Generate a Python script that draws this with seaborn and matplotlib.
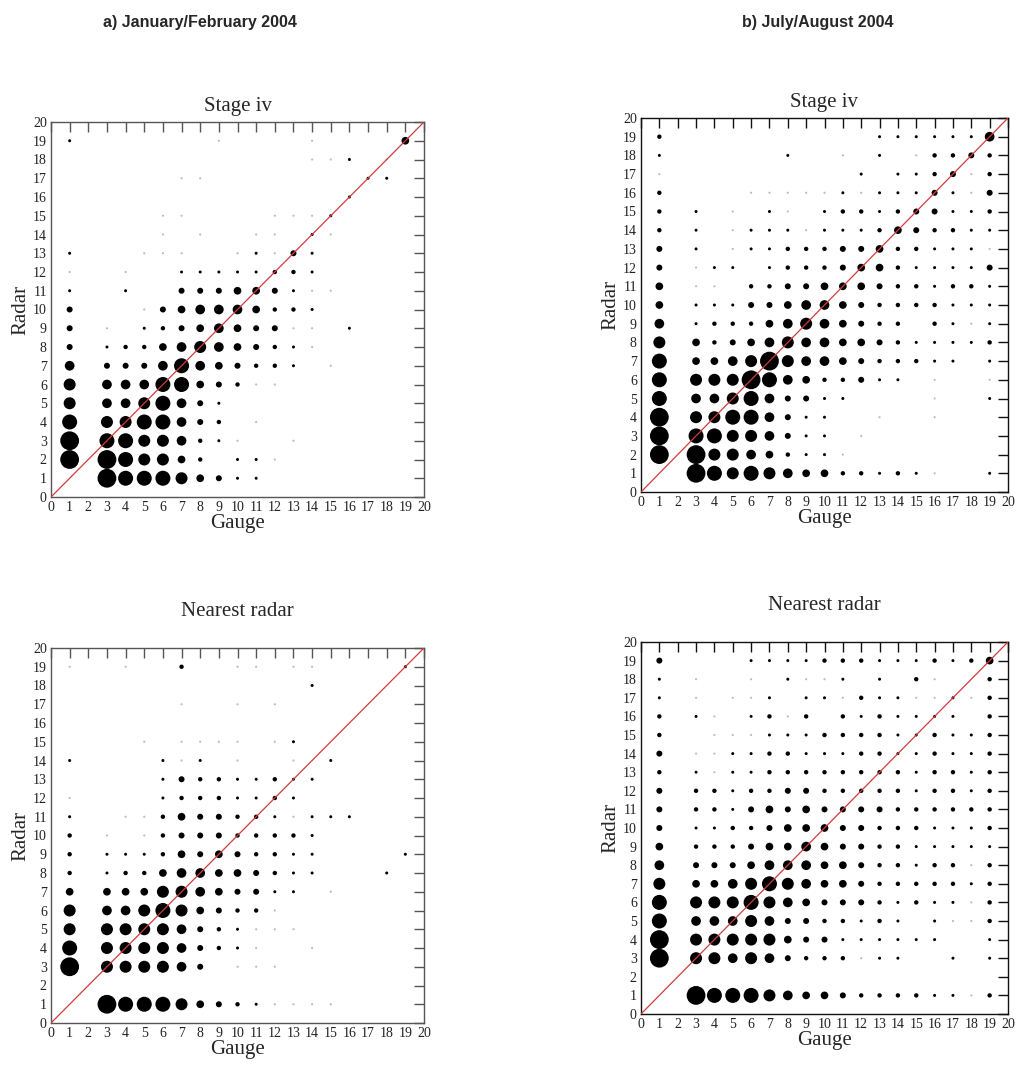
import matplotlib
matplotlib.use("Agg")
import matplotlib.pyplot as plt
import pandas as pd
import seaborn as sns

# ---------------- data ----------------
# size class of the dot in each cell: 0 = empty, 1 = faint speck, 9 = largest
# rows: radar 19 -> 1 ; columns: gauge 1 -> 19
gauge_bins = list(range(1, 20))
radar_bins = list(range(19, 0, -1))

jan_stage_iv = [
    [2, 0, 0, 0, 0, 0, 0, 0, 1, 0, 0, 0, 0, 1, 0, 0, 0, 0, 5],
    [0, 0, 0, 0, 0, 0, 0, 0, 0, 0, 0, 0, 0, 1, 1, 2, 0, 1, 0],
    [0, 0, 0, 0, 0, 0, 1, 1, 0, 0, 0, 0, 0, 0, 0, 0, 2, 2, 0],
    [0, 0, 0, 0, 0, 0, 0, 0, 0, 0, 0, 0, 0, 0, 0, 2, 0, 0, 0],
    [0, 0, 0, 0, 0, 1, 1, 0, 0, 0, 0, 1, 1, 1, 2, 0, 0, 0, 0],
    [0, 0, 0, 0, 0, 1, 0, 1, 0, 0, 1, 1, 0, 2, 1, 0, 0, 0, 0],
    [2, 0, 0, 0, 1, 1, 1, 0, 0, 1, 2, 1, 4, 2, 0, 0, 0, 0, 0],
    [1, 0, 0, 1, 0, 0, 2, 2, 2, 2, 2, 3, 3, 2, 0, 0, 0, 0, 0],
    [2, 0, 0, 2, 0, 0, 4, 4, 4, 5, 5, 4, 2, 1, 1, 0, 0, 0, 0],
    [4, 0, 0, 0, 1, 4, 5, 6, 6, 6, 5, 3, 3, 2, 0, 0, 0, 0, 0],
    [4, 0, 1, 0, 2, 3, 4, 5, 6, 5, 4, 4, 1, 1, 0, 2, 0, 0, 0],
    [4, 0, 2, 3, 3, 5, 6, 7, 6, 5, 4, 3, 2, 1, 0, 0, 0, 0, 0],
    [6, 0, 4, 4, 4, 6, 8, 6, 5, 4, 3, 3, 2, 0, 1, 0, 0, 0, 0],
    [7, 0, 6, 6, 6, 8, 8, 5, 4, 3, 1, 1, 0, 0, 0, 0, 0, 0, 0],
    [7, 0, 6, 6, 7, 8, 6, 4, 2, 0, 0, 0, 0, 0, 0, 0, 0, 0, 0],
    [8, 0, 7, 7, 8, 8, 6, 4, 3, 0, 1, 0, 0, 0, 0, 0, 0, 0, 0],
    [9, 0, 8, 8, 7, 7, 6, 3, 2, 1, 0, 0, 1, 0, 0, 0, 0, 0, 0],
    [9, 0, 9, 8, 7, 7, 5, 3, 0, 2, 2, 1, 0, 0, 0, 0, 0, 0, 0],
    [0, 0, 9, 8, 8, 8, 7, 5, 4, 2, 2, 0, 0, 0, 0, 0, 0, 0, 0],
]

jul_stage_iv = [
    [3, 0, 0, 0, 0, 0, 0, 0, 0, 0, 0, 0, 2, 2, 2, 2, 2, 2, 6],
    [2, 0, 0, 0, 0, 0, 0, 2, 0, 0, 1, 0, 2, 0, 1, 3, 3, 4, 3],
    [1, 0, 0, 0, 0, 0, 0, 0, 0, 0, 0, 2, 0, 2, 2, 3, 4, 1, 3],
    [3, 0, 0, 0, 0, 1, 1, 1, 1, 1, 2, 1, 2, 2, 2, 4, 2, 1, 4],
    [3, 0, 2, 0, 1, 0, 2, 1, 0, 2, 3, 3, 2, 3, 4, 4, 2, 2, 3],
    [3, 0, 2, 0, 1, 2, 2, 2, 1, 2, 2, 2, 3, 5, 4, 3, 3, 2, 2],
    [4, 0, 2, 0, 1, 2, 2, 3, 3, 3, 4, 4, 5, 3, 3, 2, 2, 2, 1],
    [4, 0, 1, 2, 2, 0, 2, 3, 3, 3, 4, 5, 5, 3, 2, 2, 2, 2, 4],
    [5, 0, 1, 1, 0, 3, 3, 4, 4, 5, 5, 5, 4, 3, 3, 2, 3, 3, 2],
    [5, 0, 2, 2, 2, 4, 4, 5, 6, 6, 5, 4, 3, 3, 3, 3, 2, 2, 2],
    [6, 0, 2, 3, 3, 3, 5, 6, 7, 6, 5, 4, 3, 3, 0, 3, 2, 1, 2],
    [7, 0, 5, 3, 4, 5, 6, 7, 6, 6, 5, 5, 4, 3, 2, 2, 2, 2, 3],
    [8, 0, 5, 5, 6, 7, 9, 7, 6, 6, 5, 4, 3, 3, 3, 2, 2, 0, 2],
    [8, 0, 7, 7, 7, 9, 8, 6, 5, 3, 3, 4, 2, 2, 0, 1, 0, 0, 1],
    [8, 0, 6, 6, 7, 8, 6, 4, 4, 2, 2, 0, 0, 0, 0, 1, 0, 0, 2],
    [9, 0, 7, 7, 8, 8, 6, 4, 2, 2, 0, 0, 1, 0, 0, 1, 0, 0, 0],
    [9, 0, 8, 8, 7, 7, 6, 4, 2, 2, 0, 1, 0, 0, 0, 0, 0, 0, 0],
    [9, 0, 9, 7, 7, 6, 5, 3, 2, 2, 1, 0, 0, 0, 0, 0, 0, 0, 0],
    [0, 0, 9, 8, 7, 8, 7, 6, 5, 5, 3, 3, 2, 3, 2, 1, 0, 0, 2],
]

jan_nearest = [
    [1, 0, 0, 1, 0, 0, 3, 0, 0, 1, 1, 0, 1, 1, 0, 0, 0, 0, 2],
    [0, 0, 0, 0, 0, 0, 0, 0, 0, 0, 0, 0, 0, 2, 0, 0, 0, 0, 0],
    [0, 0, 0, 0, 0, 0, 1, 0, 0, 1, 0, 1, 0, 0, 0, 0, 0, 0, 0],
    [0, 0, 0, 0, 0, 0, 0, 0, 0, 0, 0, 0, 0, 0, 0, 0, 0, 0, 0],
    [0, 0, 0, 0, 1, 0, 1, 1, 1, 1, 0, 1, 2, 0, 0, 0, 0, 0, 0],
    [2, 0, 0, 0, 0, 2, 1, 2, 0, 1, 0, 0, 1, 0, 2, 0, 0, 0, 0],
    [0, 0, 0, 0, 0, 2, 4, 3, 3, 2, 2, 3, 2, 2, 0, 0, 0, 0, 0],
    [1, 0, 0, 0, 0, 2, 3, 3, 3, 2, 2, 3, 2, 0, 0, 0, 0, 0, 0],
    [2, 0, 0, 1, 1, 3, 5, 4, 4, 3, 3, 2, 1, 2, 2, 2, 0, 0, 0],
    [3, 0, 1, 0, 1, 3, 4, 4, 4, 3, 3, 3, 3, 2, 0, 0, 0, 0, 0],
    [3, 0, 2, 2, 2, 3, 5, 4, 5, 4, 3, 3, 2, 2, 0, 0, 0, 0, 2],
    [3, 0, 2, 3, 3, 5, 6, 6, 5, 5, 4, 3, 2, 2, 0, 0, 0, 2, 0],
    [5, 0, 5, 5, 5, 7, 7, 6, 5, 4, 4, 2, 2, 0, 1, 0, 0, 0, 0],
    [7, 0, 6, 6, 7, 8, 7, 5, 4, 3, 3, 1, 0, 0, 0, 0, 0, 0, 0],
    [7, 0, 7, 7, 7, 7, 6, 4, 3, 2, 1, 1, 1, 0, 0, 0, 0, 0, 0],
    [8, 0, 7, 7, 7, 7, 6, 4, 3, 2, 1, 0, 0, 1, 0, 0, 0, 0, 0],
    [9, 0, 7, 7, 7, 7, 6, 4, 0, 1, 1, 1, 0, 0, 0, 0, 0, 0, 0],
    [0, 0, 0, 0, 0, 0, 0, 0, 0, 0, 0, 0, 0, 0, 0, 0, 0, 0, 0],
    [0, 0, 9, 8, 8, 8, 7, 5, 4, 3, 2, 1, 1, 1, 1, 0, 0, 0, 0],
]

jul_nearest = [
    [4, 0, 0, 0, 0, 2, 2, 2, 2, 3, 3, 3, 2, 2, 2, 3, 2, 3, 5],
    [2, 0, 1, 0, 0, 1, 0, 2, 1, 1, 2, 0, 2, 0, 3, 1, 0, 0, 3],
    [2, 0, 1, 0, 1, 1, 2, 0, 2, 2, 1, 3, 2, 2, 1, 1, 2, 1, 3],
    [3, 0, 2, 1, 0, 2, 3, 1, 3, 0, 3, 2, 3, 2, 2, 2, 2, 0, 3],
    [3, 0, 0, 1, 1, 1, 2, 2, 2, 3, 3, 3, 3, 2, 2, 3, 2, 2, 3],
    [4, 0, 1, 1, 2, 2, 3, 3, 2, 2, 2, 3, 3, 2, 2, 3, 2, 2, 3],
    [3, 0, 2, 1, 2, 2, 3, 3, 3, 3, 3, 3, 3, 3, 2, 3, 3, 2, 3],
    [4, 0, 3, 3, 2, 3, 3, 4, 4, 3, 3, 3, 3, 3, 2, 3, 3, 2, 3],
    [4, 0, 3, 3, 2, 4, 5, 4, 5, 4, 4, 4, 4, 3, 3, 3, 3, 3, 3],
    [4, 0, 2, 2, 3, 3, 4, 5, 5, 5, 4, 4, 3, 3, 3, 2, 2, 2, 3],
    [5, 0, 3, 3, 3, 4, 5, 5, 6, 5, 4, 4, 3, 3, 2, 2, 2, 2, 2],
    [6, 0, 4, 4, 4, 5, 6, 6, 6, 5, 5, 4, 3, 3, 2, 3, 3, 1, 3],
    [7, 0, 5, 5, 6, 7, 8, 7, 6, 5, 5, 4, 3, 3, 3, 3, 3, 2, 3],
    [8, 0, 7, 7, 7, 8, 7, 6, 5, 4, 4, 4, 3, 2, 3, 2, 2, 1, 3],
    [8, 0, 6, 6, 6, 7, 6, 4, 4, 3, 3, 2, 3, 2, 0, 2, 1, 1, 3],
    [9, 0, 7, 7, 7, 7, 7, 5, 4, 4, 2, 2, 2, 2, 2, 2, 0, 0, 2],
    [9, 0, 7, 7, 6, 7, 6, 4, 3, 3, 3, 1, 2, 2, 0, 0, 2, 0, 2],
    [0, 0, 0, 0, 0, 0, 0, 0, 0, 0, 0, 0, 0, 0, 0, 0, 0, 0, 0],
    [0, 0, 9, 8, 8, 8, 7, 6, 5, 5, 4, 3, 3, 3, 3, 2, 2, 1, 3],
]

column_titles = ["a) January/February 2004", "b) July/August 2004"]
panel_titles = ["Stage iv", "Nearest radar"]
axis_ticks = list(range(0, 21))

# ---------------- style ----------------
sns.set_style("white")
plt.rcParams["font.family"] = ["Liberation Serif", "DejaVu Serif"]

W, H = 1021, 1069
fig = plt.figure(figsize=(W / 100, H / 100), dpi=100)

# dot diameter (px) per size class
diam_px = {1: 2.2, 2: 3.0, 3: 4.4, 4: 6.0, 5: 7.7, 6: 9.7, 7: 12.0, 8: 15.0, 9: 18.8}
size_map = {k: (d * 0.72) ** 2 for k, d in diam_px.items()}
color_map = {k: ("#bdbdbd" if k == 1 else "black") for k in diam_px}


def to_frame(grid):
    recs = []
    for ri, r in enumerate(radar_bins):
        for gi, g in enumerate(gauge_bins):
            v = grid[ri][gi]
            if v > 0:
                recs.append({"gauge": g, "radar": r, "level": v})
    return pd.DataFrame(recs)


# axes boxes in pixels: left, top, right, bottom
boxes = {
    (0, 0): (51, 122, 424, 497),
    (0, 1): (641, 118, 1008, 492),
    (1, 0): (51, 648, 424, 1023),
    (1, 1): (641, 642, 1008, 1014),
}
grids = {(0, 0): jan_stage_iv, (0, 1): jul_stage_iv,
         (1, 0): jan_nearest, (1, 1): jul_nearest}
title_pad = {0: 8, 1: 23}
axis_col = {0: "#555555", 1: "#111111"}

for (row, col), (l, t, r, b) in boxes.items():
    ax = fig.add_axes([l / W, 1 - b / H, (r - l) / W, (b - t) / H])
    df = to_frame(grids[(row, col)])
    sns.scatterplot(data=df, x="gauge", y="radar", size="level", sizes=size_map,
                    hue="level", palette=color_map, linewidth=0, legend=False,
                    ax=ax, zorder=2)
    ax.plot([0, 20], [0, 20], color="#d23b3b", lw=0.9, zorder=3)
    ax.set_xlim(0, 20)
    ax.set_ylim(0, 20)
    ax.set_xticks(axis_ticks)
    ax.set_yticks(axis_ticks)
    ax.tick_params(direction="in", length=7, width=1.0, top=True, right=True,
                   labelsize=10, pad=3, color=axis_col[col], labelcolor="#222222")
    for sp in ax.spines.values():
        sp.set_linewidth(1.0)
        sp.set_color(axis_col[col])
    ax.set_xlabel("Gauge", fontsize=15, labelpad=0)
    ax.set_ylabel("Radar", fontsize=15, labelpad=2)
    ax.set_title(panel_titles[row], fontsize=15, pad=title_pad[row])

fig.text(200 / W, 1 - 22 / H, column_titles[0], ha="center", va="center",
         fontsize=11.5, fontweight="bold", family=["Liberation Sans", "DejaVu Sans"])
fig.text(818 / W, 1 - 22 / H, column_titles[1], ha="center", va="center",
         fontsize=11.5, fontweight="bold", family=["Liberation Sans", "DejaVu Sans"])

fig.savefig("out.png", dpi=100)
